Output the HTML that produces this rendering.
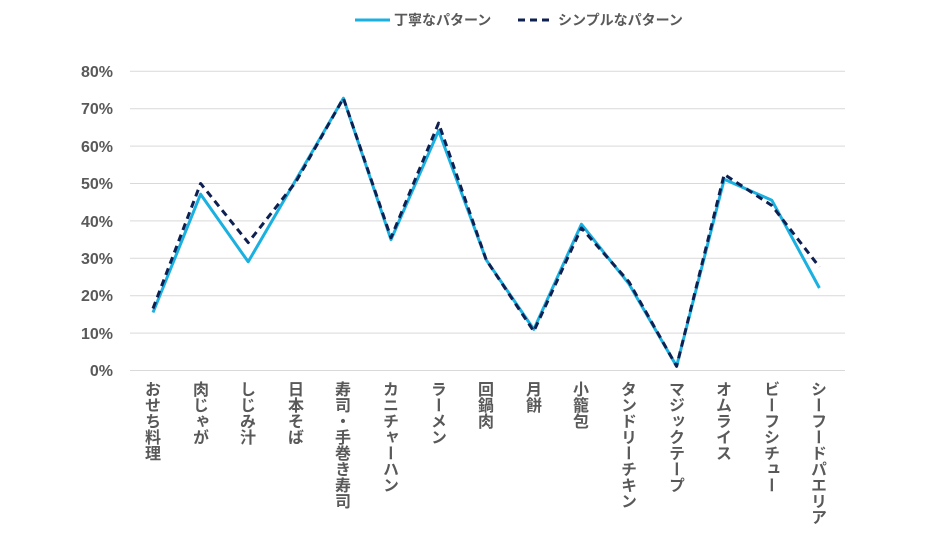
<!DOCTYPE html>
<html><head><meta charset="utf-8"><style>
body{margin:0;width:937px;height:541px;background:#fff;overflow:hidden;position:relative;font-family:"Liberation Sans","Noto Sans CJK JP",sans-serif;}
.lb{position:absolute;top:381px;writing-mode:vertical-rl;font-size:16px;font-weight:bold;color:#595959;line-height:16px;width:16px;font-family:"Noto Sans CJK JP",sans-serif;}
</style></head><body>
<svg width="937" height="541" style="position:absolute;left:0;top:0">
<g stroke="#d9d9d9" stroke-width="1">
<line x1="130" x2="845" y1="370.5" y2="370.5"/>
<line x1="130" x2="845" y1="333.1" y2="333.1"/>
<line x1="130" x2="845" y1="295.7" y2="295.7"/>
<line x1="130" x2="845" y1="258.3" y2="258.3"/>
<line x1="130" x2="845" y1="220.9" y2="220.9"/>
<line x1="130" x2="845" y1="183.5" y2="183.5"/>
<line x1="130" x2="845" y1="146.1" y2="146.1"/>
<line x1="130" x2="845" y1="108.7" y2="108.7"/>
<line x1="130" x2="845" y1="71.3" y2="71.3"/>
</g>
<g font-size="16" font-weight="bold" fill="#595959" text-anchor="end">
<text x="113" y="376">0%</text><text x="113" y="339">10%</text><text x="113" y="301">20%</text>
<text x="113" y="264">30%</text><text x="113" y="227">40%</text><text x="113" y="189">50%</text>
<text x="113" y="152">60%</text><text x="113" y="114">70%</text><text x="113" y="77">80%</text>
</g>
<polyline fill="none" stroke="#1ab0e0" stroke-width="3" stroke-linejoin="round" points="153,312.5 200.6,194.2 248.2,261.8 295.8,180 343.4,98.2 391,239.6 438.6,130.6 486.2,259.8 533.8,329.4 581.4,224.2 629,284 676.6,366.3 724.2,179.3 771.8,200.2 819.4,288"/>
<polyline fill="none" stroke="#0e2052" stroke-width="3" stroke-dasharray="7,5" stroke-linejoin="round" points="153,308.5 200.6,183.5 248.2,242.6 295.8,182 343.4,98.2 391,237.7 438.6,123.1 486.2,259.8 533.8,331.3 581.4,228 629,282 676.6,366.3 724.2,174.4 771.8,205.5 819.4,267"/>
<line x1="355" x2="390" y1="20" y2="20" stroke="#1ab0e0" stroke-width="3"/>
<line x1="518" x2="553" y1="20" y2="20" stroke="#0e2052" stroke-width="3" stroke-dasharray="7,5"/>
<g font-size="14" font-weight="bold" fill="#595959" font-family="Noto Sans CJK JP,sans-serif">
<text x="394" y="25">丁寧なパターン</text><text x="558" y="25">シンプルなパターン</text>
</g>
</svg>
<div class="lb" style="left:145px">おせち料理</div>
<div class="lb" style="left:193px">肉じゃが</div>
<div class="lb" style="left:240px">しじみ汁</div>
<div class="lb" style="left:288px">日本そば</div>
<div class="lb" style="left:335px">寿司・手巻き寿司</div>
<div class="lb" style="left:383px">カニチャーハン</div>
<div class="lb" style="left:431px">ラーメン</div>
<div class="lb" style="left:478px">回鍋肉</div>
<div class="lb" style="left:526px">月餅</div>
<div class="lb" style="left:573px">小籠包</div>
<div class="lb" style="left:621px">タンドリーチキン</div>
<div class="lb" style="left:669px">マジックテープ</div>
<div class="lb" style="left:716px">オムライス</div>
<div class="lb" style="left:764px">ビーフシチュー</div>
<div class="lb" style="left:811px">シーフードパエリア</div>
</body></html>
